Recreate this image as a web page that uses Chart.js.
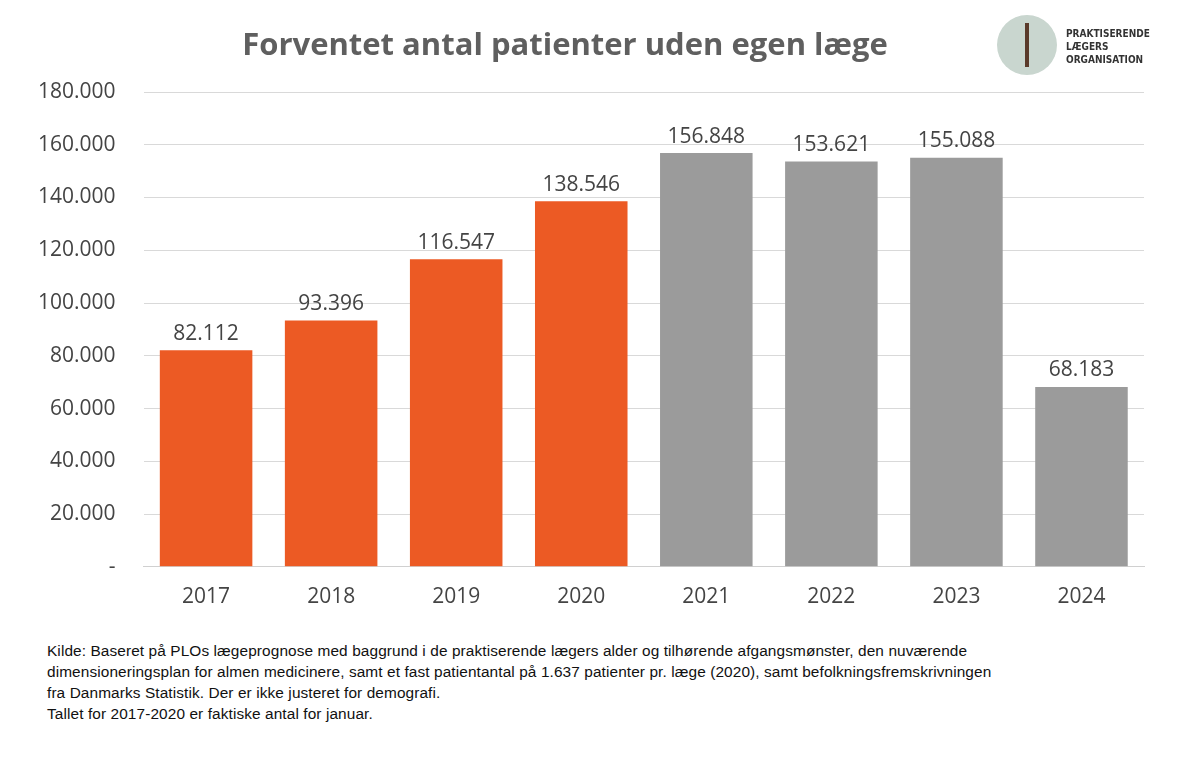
<!DOCTYPE html>
<html><head><meta charset="utf-8">
<script src="https://cdn.jsdelivr.net/npm/chart.js@4"></script>
<style>
body{margin:0;background:#fff;font-family:Calibri,Carlito,"Liberation Sans",Arial,sans-serif;}
#wrap{position:absolute;left:0;top:0;width:1202px;height:630px;}
#title{position:absolute;left:165px;width:800px;top:22px;text-align:center;font:bold 31px "Open Sans",sans-serif;color:#5f5f5f;}
#logo{position:absolute;left:997px;top:15px;width:60px;height:60px;border-radius:50%;background:#c9d6cf;}
#logo span{position:absolute;left:28px;top:8px;width:4px;height:44px;background:#5a3a2a;}
#logotxt{position:absolute;left:1066px;top:27px;font:bold 10px "Liberation Sans Narrow","DejaVu Sans Condensed",sans-serif;color:#333;line-height:13px;}
#note{position:absolute;left:47px;top:640px;font-size:15.4px;color:#111;line-height:21px;font-family:"Liberation Sans",Arial,sans-serif;letter-spacing:0.1px;}
</style></head><body>
<div id="wrap"><canvas id="c"></canvas></div>
<div id="title">Forventet antal patienter uden egen læge</div>
<div id="logo"><span></span></div>
<div id="logotxt">PRAKTISERENDE<br>LÆGERS<br>ORGANISATION</div>
<div id="note">Kilde: Baseret på PLOs lægeprognose med baggrund i de praktiserende lægers alder og tilhørende afgangsmønster, den nuværende<br>dimensioneringsplan for almen medicinere, samt et fast patientantal på 1.637 patienter pr. læge (2020), samt befolkningsfremskrivningen<br>fra Danmarks Statistik. Der er ikke justeret for demografi.<br>Tallet for 2017-2020 er faktiske antal for januar.</div>
<script>
const years=["2017","2018","2019","2020","2021","2022","2023","2024"];
const values=[82112,93396,116547,138546,156848,153621,155088,68183];
const colors=["#ec5a24","#ec5a24","#ec5a24","#ec5a24","#9b9b9b","#9b9b9b","#9b9b9b","#9b9b9b"];
const fmt=v=>v===0?"-":v.toLocaleString("de-DE");
const labelPlugin={id:"lbl",afterDatasetsDraw(ch){const ctx=ch.ctx;const m=ch.getDatasetMeta(0);ctx.save();ctx.font="21px 'Open Sans',sans-serif";ctx.fillStyle="#444";ctx.textAlign="center";ctx.textBaseline="bottom";m.data.forEach((b,i)=>ctx.fillText(fmt(values[i]),b.x,b.y-6));ctx.restore();}};
new Chart(document.getElementById("c"),{type:"bar",
data:{labels:years,datasets:[{data:values,backgroundColor:colors,barPercentage:0.74,categoryPercentage:1}]},
options:{responsive:true,maintainAspectRatio:false,animation:false,
layout:{padding:{left:10,right:58,top:92,bottom:10}},
plugins:{legend:{display:false},tooltip:{enabled:false}},
scales:{x:{grid:{display:false},border:{color:"#d0d0d0"},ticks:{font:{size:21,family:"'Open Sans',sans-serif"},color:"#444",padding:10}},
y:{min:0,max:180000,ticks:{stepSize:20000,callback:v=>fmt(v),font:{size:21,family:"'Open Sans',sans-serif"},color:"#444",padding:28},grid:{color:"#d9d9d9",drawTicks:false},border:{display:false}}}},
plugins:[labelPlugin]});
</script></body></html>
